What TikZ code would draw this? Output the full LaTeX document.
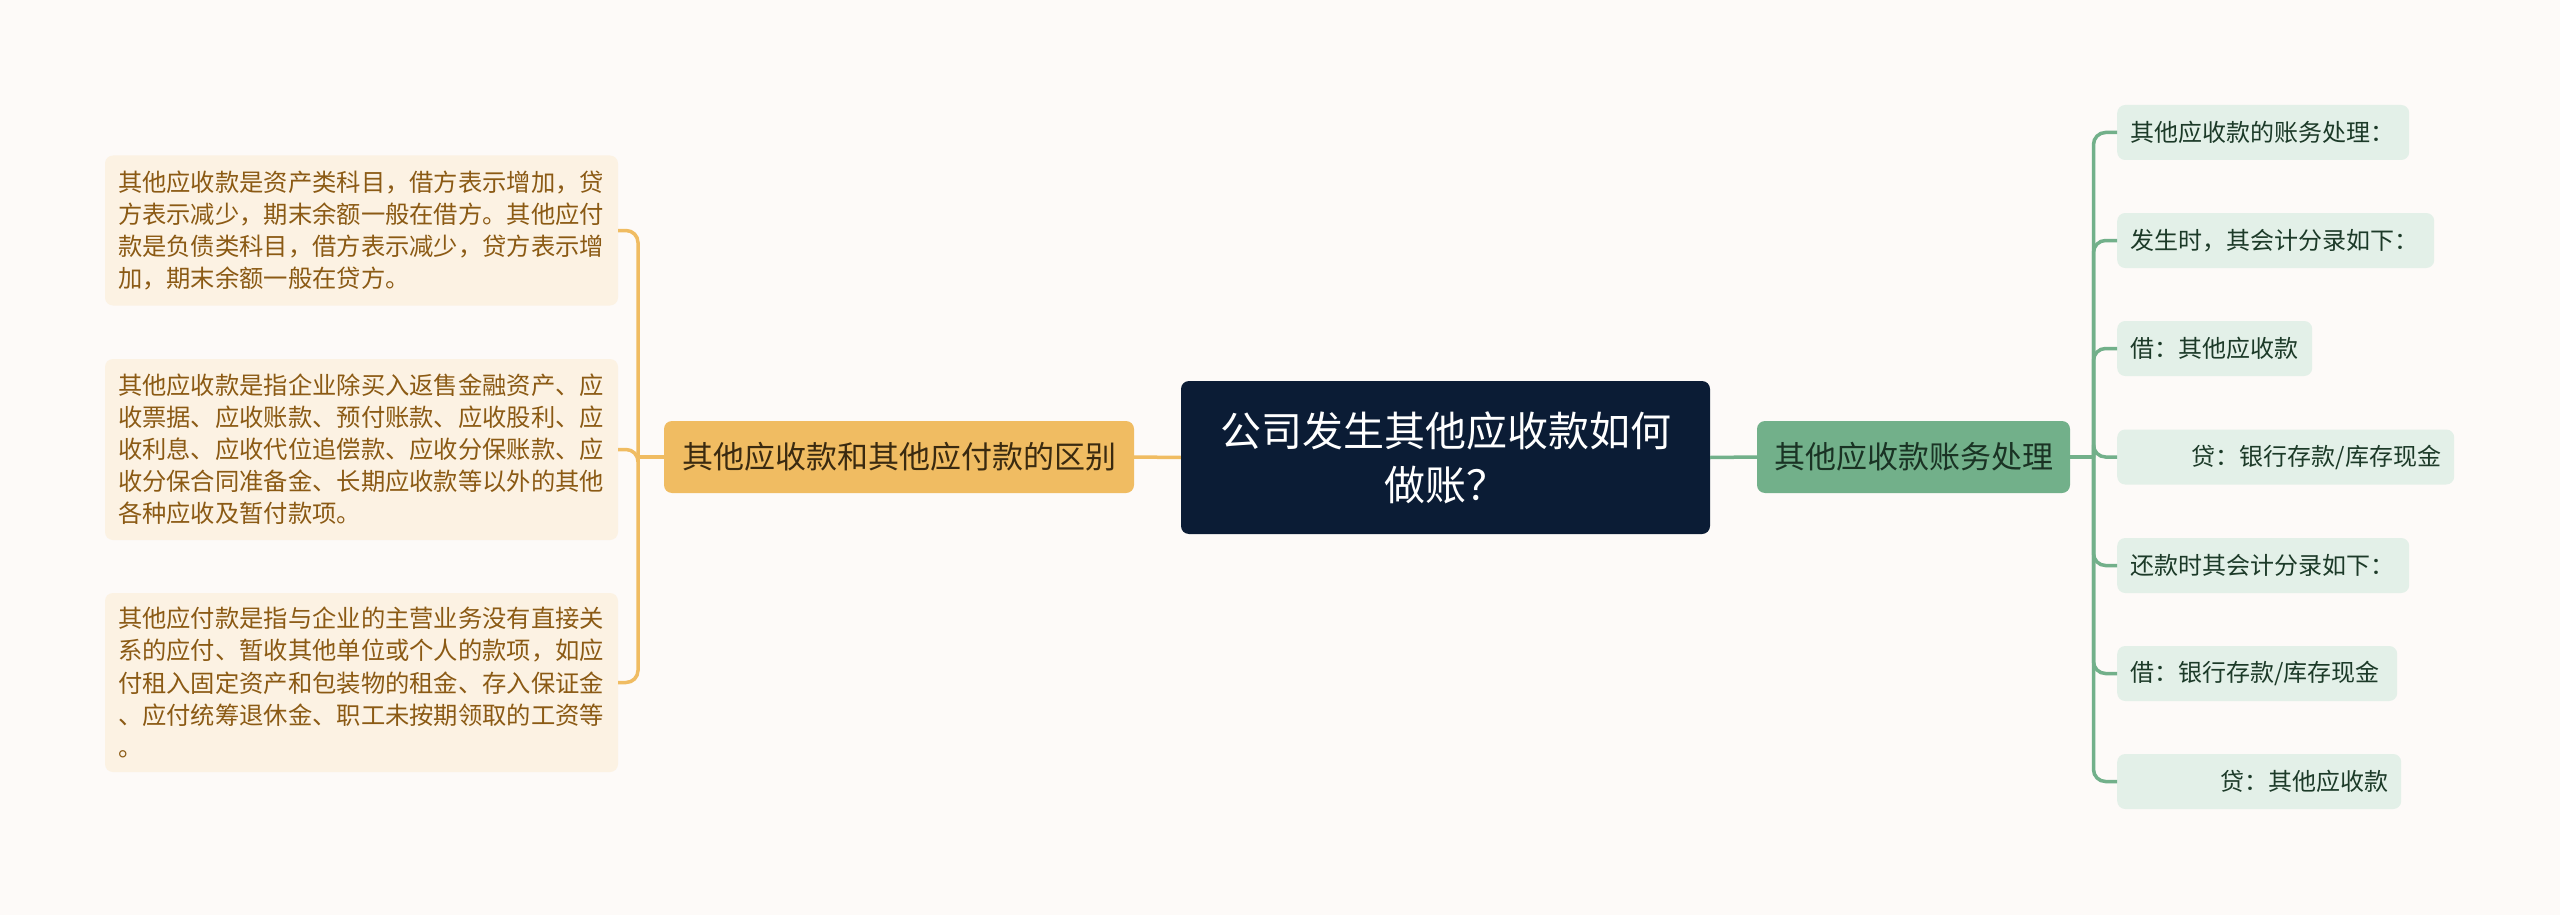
\documentclass[tikz,border=0pt]{standalone}
\usepackage{fontspec}
\newfontfamily\cjk{Noto Sans CJK SC}
\definecolor{bg}{HTML}{FDFAF8}
\definecolor{navy}{HTML}{0B1C35}
\definecolor{orangeM}{HTML}{F0BC62}
\definecolor{greenM}{HTML}{72B08A}
\definecolor{lfill}{HTML}{FCF2E3}
\definecolor{rfill}{HTML}{E3F0E8}
\definecolor{ltext}{HTML}{8B5A14}
\definecolor{rtext}{HTML}{1C3A28}
\definecolor{otext}{HTML}{3A2A10}
\definecolor{gtext}{HTML}{1A3324}
\begin{document}
\begin{tikzpicture}[x=1pt,y=-1pt,
  root/.style={fill=navy, rounded corners=8pt, minimum width=529pt, minimum height=153pt,
    inner sep=0pt, text=white, align=center, font=\cjk\fontsize{41}{54}\selectfont},
  obox/.style={fill=orangeM, rounded corners=8pt, minimum width=470pt, minimum height=72pt,
    inner sep=0pt, text=otext, font=\cjk\fontsize{31}{36}\selectfont},
  gbox/.style={fill=greenM, rounded corners=8pt, minimum width=313pt, minimum height=72pt,
    inner sep=0pt, text=gtext, font=\cjk\fontsize{31}{36}\selectfont},
  lleaf/.style={fill=lfill, rounded corners=8pt, minimum width=513pt, text width=487pt,
    inner xsep=13pt, inner ysep=0pt, align=left, text=ltext, font=\cjk\fontsize{24.3}{32.1}\selectfont},
  rleaf/.style={fill=rfill, rounded corners=8pt, minimum height=55pt, anchor=west,
    inner xsep=13pt, inner ysep=0pt, text=rtext, font=\cjk\fontsize{24}{30}\selectfont},
  oline/.style={draw=orangeM, line width=3.5pt},
  gline/.style={draw=greenM, line width=3.5pt}
]
\fill[bg] (0,0) rectangle (2560,915);
\useasboundingbox (0,0) rectangle (2560,915);

\node[root] (root) at (1445.5,457.5) {公司发生其他应收款如何\\做账？};
\node[obox] (orange) at (899,457) {其他应收款和其他应付款的区别};
\node[gbox] (green) at (1913.5,457) {其他应收款账务处理};

\node[lleaf, minimum height=150pt] (L1) at (361.5,230.5) {其他应收款是资产类科目，借方表示增加，贷\\方表示减少，期末余额一般在借方。其他应付\\款是负债类科目，借方表示减少，贷方表示增\\加，期末余额一般在贷方。};
\node[lleaf, minimum height=181pt] (L2) at (361.5,449.5) {其他应收款是指企业除买入返售金融资产、应\\收票据、应收账款、预付账款、应收股利、应\\收利息、应收代位追偿款、应收分保账款、应\\收分保合同准备金、长期应收款等以外的其他\\各种应收及暂付款项。};
\node[lleaf, minimum height=179pt] (L3) at (361.5,682.5) {其他应付款是指与企业的主营业务没有直接关\\系的应付、暂收其他单位或个人的款项，如应\\付租入固定资产和包装物的租金、存入保证金\\、应付统筹退休金、职工未按期领取的工资等\\。};

\node[rleaf, minimum width=292pt, text width=266pt, align=left] (R1) at (2117,132.5) {其他应收款的账务处理：};
\node[rleaf, minimum width=317pt, text width=291pt, align=left] (R2) at (2117,240.5) {发生时，其会计分录如下：};
\node[rleaf, minimum width=195pt, text width=169pt, align=left] (R3) at (2117,348.5) {借：其他应收款};
\node[rleaf, minimum width=337pt, text width=311pt, align=right] (R4) at (2117,457) {贷：银行存款/库存现金};
\node[rleaf, minimum width=292pt, text width=266pt, align=left] (R5) at (2117,565.5) {还款时其会计分录如下：};
\node[rleaf, minimum width=280pt, text width=254pt, align=left] (R6) at (2117,673.5) {借：银行存款/库存现金};
\node[rleaf, minimum width=284pt, text width=258pt, align=right] (R7) at (2117,781.5) {贷：其他应收款};

\draw[oline] (root.west) -- (orange.east);
\draw[gline] (root.east) -- (green.west);

\coordinate (lj) at (638,457);
\draw[oline] (orange.west) -- (lj);
\foreach \n in {L1,L2,L3} \draw[oline, rounded corners=12pt] (lj) |- (\n.east);

\coordinate (rj) at (2093.5,457);
\draw[gline] (green.east) -- (rj);
\foreach \n in {R1,R2,R3,R4,R5,R6,R7} \draw[gline, rounded corners=12pt] (rj) |- (\n.west);
\end{tikzpicture}
\end{document}
